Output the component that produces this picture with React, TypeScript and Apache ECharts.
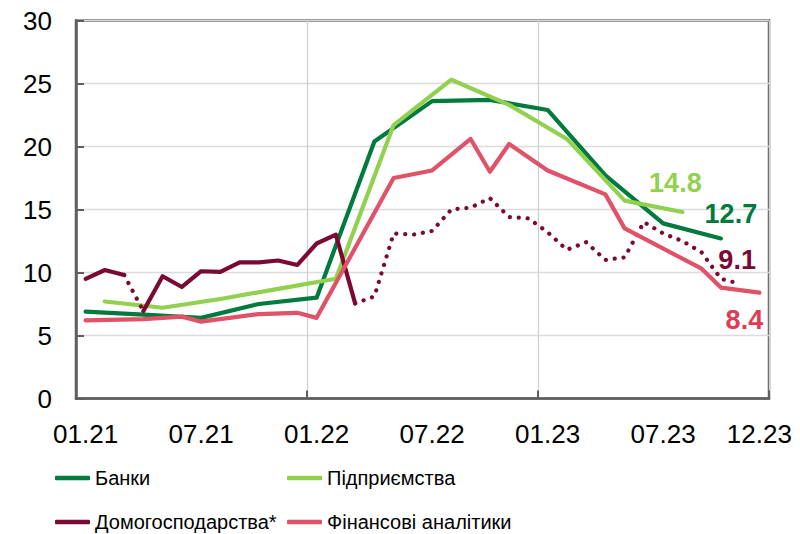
import React, { useEffect, useRef } from "react";
import * as echarts from "echarts";

const categories = [
  "01.21", "02.21", "03.21", "04.21", "05.21", "06.21", "07.21", "08.21", "09.21", "10.21", "11.21", "12.21",
  "01.22", "02.22", "03.22", "04.22", "05.22", "06.22", "07.22", "08.22", "09.22", "10.22", "11.22", "12.22",
  "01.23", "02.23", "03.23", "04.23", "05.23", "06.23", "07.23", "08.23", "09.23", "10.23", "11.23", "12.23",
];
const shownLabelIndexes = [0, 6, 12, 18, 24, 30, 35];
const yearStartIndexes = [12, 24];

const banks = [
  6.9, null, null, 6.65, null, null, 6.4, null, null, 7.5, null, null,
  8.0, null, null, 20.4, null, null, 23.6, null, null, 23.7, null, null,
  22.9, null, null, 17.7, null, null, 13.9, null, null, 12.7,
];
const enterprises = [
  null, 7.7, null, null, 7.2, null, null, 7.9, null, null, 8.7, null,
  null, 9.5, null, null, 21.7, null, null, 25.3, null, null, 23.3, null,
  null, 20.6, null, null, 15.7, null, null, 14.8,
];
const households = [
  9.5, 10.2, 9.8, 6.95, 9.7, 8.85, 10.1, 10.05, 10.8, 10.8, 10.95, 10.6,
  12.3, 13.0, 7.55, 8.1, 13.1, 13.0, 13.3, 15.0, 15.15, 15.9, 14.4, 14.3,
  13.2, 11.8, 12.4, 11.0, 11.2, 14.0, 13.1, 12.5, 11.6, 9.5, 9.1,
];
const householdsSolidRanges = [[0, 2], [3, 14]];
const householdsDottedRanges = [[2, 3], [14, 34]];
const analysts = [
  6.2, null, null, 6.3, null, 6.5, 6.1, null, null, 6.7, null, 6.8,
  6.4, null, null, null, 17.5, null, 18.1, null, 20.6, 18.0, 20.2, null,
  18.1, null, null, 16.2, 13.5, null, null, null, 10.3, 8.8, null, 8.4,
];

const seriesNames = ["Банки", "Підприємства", "Домогосподарства*", "Фінансові аналітики"];
const colors = ["#007A3D", "#92D050", "#7A0A33", "#DF5267"];
const labelColors = ["#007A3D", "#92D050", "#7A0A33", "#E23A52"];

const FONT = "'Liberation Sans', Arial, sans-serif";

function lastIndex(arr: (number | null)[]) {
  for (let i = arr.length - 1; i >= 0; i--) if (arr[i] !== null) return i;
  return -1;
}

function endMark(arr: (number | null)[], color: string, offset: number[]) {
  const i = lastIndex(arr);
  const v = arr[i] as number;
  return {
    silent: true,
    symbol: "circle",
    symbolSize: 1,
    itemStyle: { color: "transparent" },
    label: {
      show: true,
      position: "inside",
      offset,
      color,
      fontSize: 27,
      fontWeight: "bold",
      fontFamily: FONT,
      formatter: () => v.toFixed(1),
    },
    data: [{ coord: [i, v], value: v }],
  };
}

function maskRange(arr: (number | null)[], ranges: number[][]) {
  return arr.map((v, i) => (ranges.some(([a, b]) => i >= a && i <= b) ? v : null));
}

export default function App() {
  const ref = useRef<HTMLDivElement>(null);
  useEffect(() => {
    document.body.style.margin = "0";
    if (!ref.current) return;
    const chart = echarts.init(ref.current, null, { renderer: "svg" });
    const lineBase = (color: string) => ({
      type: "line",
      symbol: "none",
      showSymbol: false,
      itemStyle: { color },
      lineStyle: { color, width: 4.2, cap: "round", join: "round" },
    });
    const legendBase = {
      top: 468,
      height: 66,
      padding: 0,
      orient: "vertical",
      icon: "roundRect",
      itemWidth: 35,
      itemHeight: 4.5,
      itemGap: 24,
      selectedMode: false,
      textStyle: { fontSize: 20, color: "#000", fontFamily: FONT },
    };
    const option: any = {
      animation: false,
      backgroundColor: "#ffffff",
      textStyle: { fontFamily: FONT },
      grid: {
        left: 76,
        top: 20.5,
        right: 31,
        bottom: 135.5,
        show: true,
        borderColor: "#5f5f5f",
        borderWidth: 2.5,
        backgroundColor: "transparent",
      },
      legend: [
        { ...legendBase, left: 55, data: [seriesNames[0], seriesNames[2]] },
        { ...legendBase, left: 287, data: [seriesNames[1], seriesNames[3]] },
      ],
      xAxis: {
        type: "category",
        data: categories,
        boundaryGap: true,
        axisLine: { show: true, lineStyle: { color: "#5f5f5f", width: 2.5 } },
        axisTick: {
          show: true,
          inside: true,
          length: 8,
          interval: (i: number) => yearStartIndexes.includes(i),
          lineStyle: { color: "#5f5f5f", width: 2 },
        },
        splitLine: {
          show: true,
          interval: (i: number) => yearStartIndexes.includes(i),
          lineStyle: { color: "#cdd1d6", width: 1.3 },
        },
        axisLabel: {
          interval: (i: number) => shownLabelIndexes.includes(i),
          color: "#000",
          fontSize: 26,
          fontFamily: FONT,
          margin: 22,
          hideOverlap: false,
        },
      },
      yAxis: {
        type: "value",
        min: 0,
        max: 30,
        interval: 5,
        axisLine: { show: true, lineStyle: { color: "#5f5f5f", width: 2.5 } },
        axisTick: { show: true, inside: true, length: 8, lineStyle: { color: "#5f5f5f", width: 2 } },
        splitLine: { show: true, lineStyle: { color: "#d9dcdf", width: 1.3 } },
        axisLabel: { color: "#000", fontSize: 26, fontFamily: FONT, margin: 24 },
      },
      series: [
        {
          ...lineBase(colors[0]),
          name: seriesNames[0],
          connectNulls: true,
          data: banks,
          markPoint: endMark(banks, labelColors[0], [10, -24]),
        },
        {
          ...lineBase(colors[1]),
          name: seriesNames[1],
          connectNulls: true,
          data: enterprises,
          markPoint: endMark(enterprises, labelColors[1], [-7, -29]),
        },
        ...householdsSolidRanges.map((r) => ({
          ...lineBase(colors[2]),
          name: seriesNames[2],
          connectNulls: false,
          data: maskRange(households, [r]),
        })),
        {
          ...lineBase(colors[2]),
          name: seriesNames[2],
          connectNulls: false,
          lineStyle: { color: colors[2], width: 4.2, type: [0.1, 8.8], cap: "round" },
          data: maskRange(households, householdsDottedRanges),
          markPoint: endMark(households, labelColors[2], [-3, -24]),
        },
        {
          ...lineBase(colors[3]),
          name: seriesNames[3],
          connectNulls: true,
          data: analysts,
          markPoint: endMark(analysts, labelColors[3], [-15, 27]),
        },
      ],
    };
    chart.setOption(option);
    return () => chart.dispose();
  }, []);
  return <div ref={ref} style={{ width: 800, height: 534 }} />;
}
